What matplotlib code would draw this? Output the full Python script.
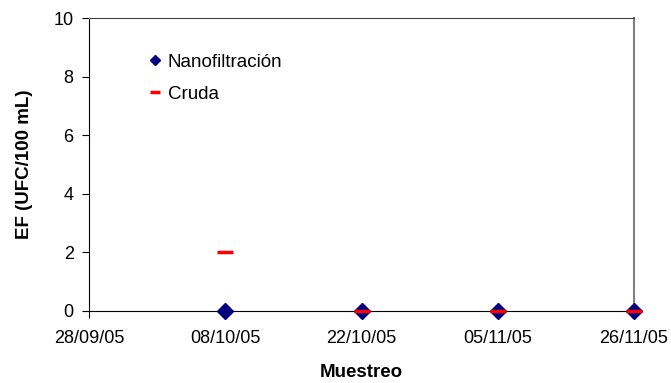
import matplotlib
matplotlib.use("Agg")
import matplotlib.pyplot as plt

# datos del muestreo
fechas = ["28/09/05", "08/10/05", "22/10/05", "05/11/05", "26/11/05"]
nano_pos = [1, 2, 3, 4]
nano_vals = [0, 0, 0, 0]
cruda_pos = [1, 2, 3, 4]
cruda_vals = [2, 0, 0, 0]

plt.rcParams["font.family"] = ["Liberation Sans", "DejaVu Sans"]

fig = plt.figure(figsize=(6.71, 3.83), dpi=100)
ax = fig.add_axes([0.1326, 0.188, 0.8123, 0.765])

ax.plot(cruda_pos, cruda_vals, linestyle="none", marker="_", color="red",
        markersize=11, markeredgewidth=2.5, label="Cruda", clip_on=False, zorder=4)
ax.plot(nano_pos, nano_vals, linestyle="none", marker="D", color="#000080",
        markersize=8, label="Nanofiltración", clip_on=False, zorder=3)

ax.set_xlim(0, 4)
ax.set_ylim(0, 10)
ax.set_xticks(range(len(fechas)))
ax.set_xticklabels(fechas, fontsize=13)
ax.set_yticks(range(0, 11, 2))
ax.tick_params(axis="y", labelsize=13, direction="out", length=5, pad=6)
ax.tick_params(axis="x", direction="out", length=5, pad=9)

ax.spines["top"].set_color("#404040")
ax.spines["right"].set_color("#808080")
ax.spines["right"].set_linewidth(1.5)

ax.set_xlabel("Muestreo", fontsize=13.5, fontweight="bold", labelpad=12)
ax.set_ylabel("EF (UFC/100 mL)", fontsize=13.5, fontweight="bold", labelpad=15)

handles, labels = ax.get_legend_handles_labels()
ax.legend(handles[::-1], labels[::-1], loc="upper left", bbox_to_anchor=(0.076, 0.935),
          frameon=False, fontsize=13.5, handlelength=0.8, handletextpad=0.3,
          labelspacing=0.78, markerscale=0.65)

fig.savefig("out.png", dpi=100)
